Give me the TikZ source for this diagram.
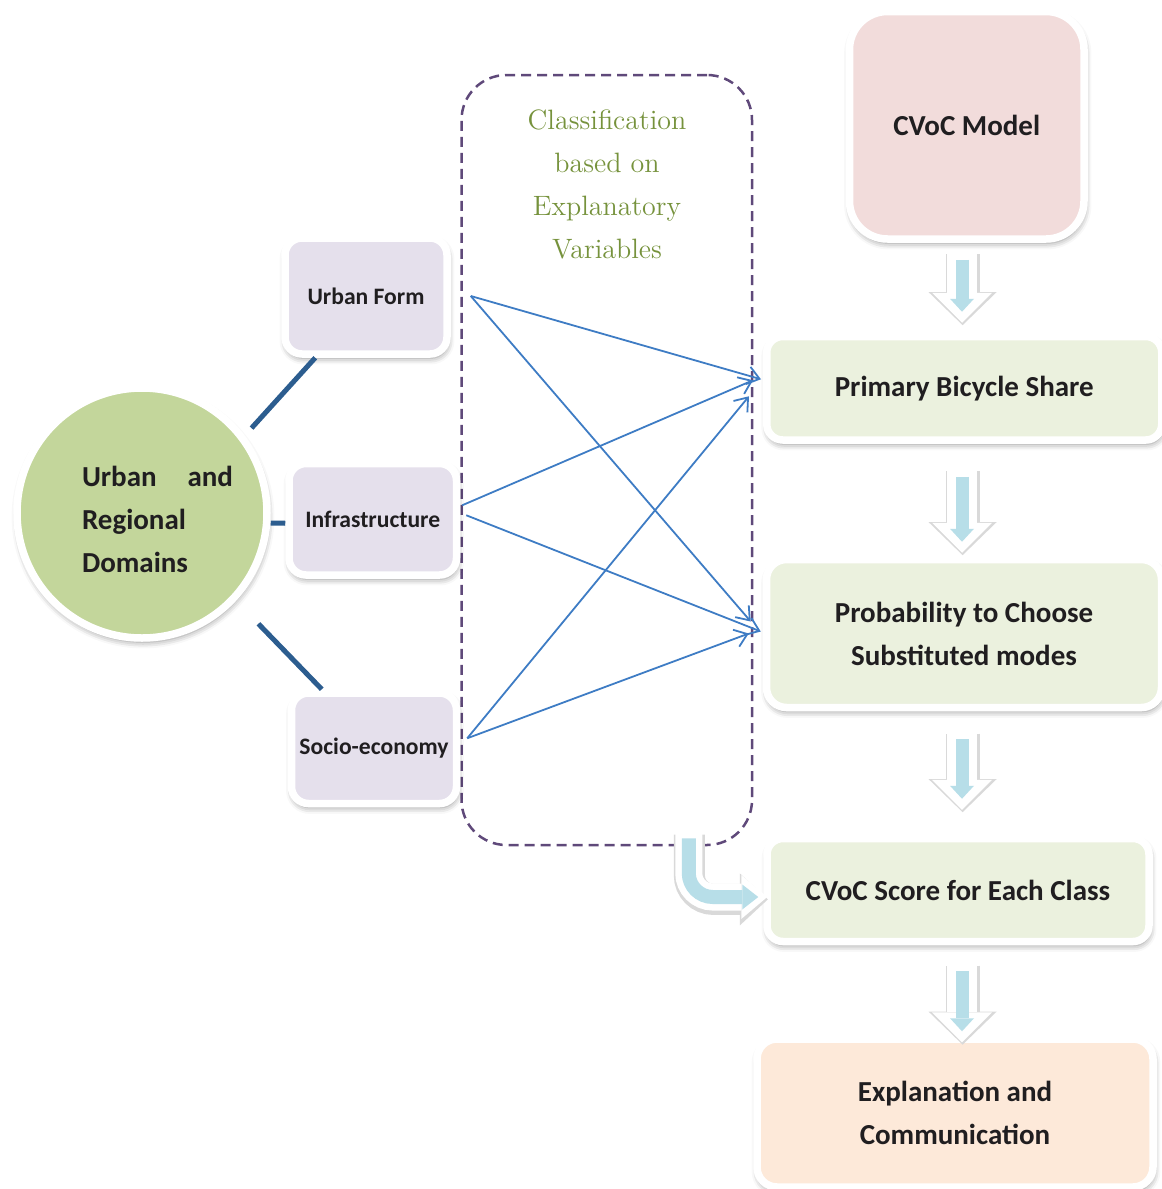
\documentclass[tikz,border=0pt]{standalone}
\usepackage{fontspec}
\usepackage{tikz}
\usetikzlibrary{arrows.meta,calc,shadows.blur}
\newfontfamily\carlito{Carlito}
\definecolor{domaingreen}{RGB}{195,214,155}
\definecolor{varlilac}{RGB}{229,224,236}
\definecolor{modelpink}{RGB}{242,220,219}
\definecolor{stepgreen}{RGB}{235,241,222}
\definecolor{explpeach}{RGB}{253,233,217}
\definecolor{flowblue}{RGB}{183,222,232}
\definecolor{dashpurple}{RGB}{95,73,122}
\definecolor{classgreen}{RGB}{118,146,60}
\definecolor{connblue}{RGB}{44,93,143}
\definecolor{varblue}{RGB}{62,124,196}
\definecolor{textdark}{RGB}{32,30,32}

\begin{document}
\begin{tikzpicture}[x=0.5pt,y=-0.5pt,
  softshadow/.style={blur shadow={shadow xshift=0.5pt,shadow yshift=-2pt,shadow blur radius=3.2pt,shadow opacity=45}},
  domaincircle/.style={circle,fill=domaingreen,draw=white,line width=3.75pt,minimum size=125pt,inner sep=0pt,softshadow},
  domaintext/.style={font=\carlito\bfseries\fontsize{14.5}{21.5}\selectfont,text=textdark,text width=75.5pt,align=justify,inner sep=0pt},
  varbox/.style={rectangle,rounded corners=8.5pt,fill=varlilac,draw=white,line width=3.75pt,inner sep=0pt,softshadow,
    font=\carlito\bfseries\fontsize{11.8}{14}\selectfont,text=textdark,align=center},
  stepbox/.style={rectangle,rounded corners=8pt,draw=white,line width=3.75pt,inner sep=0pt,softshadow,
    font=\carlito\bfseries\fontsize{14.5}{21.5}\selectfont,text=textdark,align=center},
  classbox/.style={rectangle,rounded corners=22.5pt,draw=dashpurple,line width=1.25pt,dash pattern=on 5pt off 3pt,
    minimum width=145.25pt,minimum height=385pt,inner sep=0pt},
  classtext/.style={font=\fontsize{14}{21.5}\selectfont,text=classgreen,align=center,inner sep=0pt},
  domainline/.style={draw=connblue,line width=2.5pt},
  varline/.style={draw=varblue,line width=0.9pt,-{Straight Barb[length=6pt,width=9pt]}},
  flowarrow/.style={draw=white,line width=15pt,-{Triangle[length=15pt,width=30pt,line width=0pt]},
    preaction={draw=black!15,line width=17pt,-{Triangle[length=16.5pt,width=34pt,line width=0pt]},
      transform canvas={xshift=0.3pt,yshift=-1.2pt}},
    postaction={draw=flowblue,line width=6.5pt,shorten <=4pt,shorten >=5.5pt,-{Triangle[length=6.5pt,width=12pt,line width=0pt]}}},
  bendarrow/.style={draw=white,line width=13.5pt,rounded corners=12pt,-{Triangle[length=13pt,width=22pt,line width=0pt]},
    preaction={draw=black!15,line width=15.5pt,-{Triangle[length=14pt,width=26pt,line width=0pt]},
      transform canvas={xshift=0.3pt,yshift=-1.2pt}},
    postaction={draw=flowblue,line width=7pt,shorten <=3pt,shorten >=4.5pt,-{Triangle[length=8pt,width=12.5pt,line width=0pt]}}}]
\useasboundingbox (0,0) rectangle (1162,1189);

\node[classbox] (classbox) at (606.75,460) {};
\node[classtext] (classtext) at (607,184) {Classification\\based on\\Explanatory\\Variables};

\node[domaincircle] (domains) at (142,513) {};
\node[domaintext] (domainstext) at (157.5,519) {Urban\hfill and\\Regional\\Domains};

\node[varbox,minimum width=81pt,minimum height=58pt] (urbanform) at (366,296) {Urban Form};
\node[varbox,minimum width=83.75pt,minimum height=55.75pt] (infra) at (372.75,519.25) {Infrastructure};
\node[varbox,minimum width=82.5pt,minimum height=55.25pt] (socio) at (374,748.25) {Socio-economy};

\node[stepbox,fill=modelpink,rounded corners=19pt,minimum width=117.25pt,minimum height=113.75pt] (cvoc) at (966.75,125.25) {CVoC Model};
\node[stepbox,fill=stepgreen,minimum width=197.5pt,minimum height=51.75pt] (share) at (964.25,388.25) {Primary Bicycle Share};
\node[stepbox,fill=stepgreen,rounded corners=10pt,minimum width=197.5pt,minimum height=74pt] (prob) at (964,633.5) {Probability to Choose\\Substituted modes};
\node[stepbox,fill=stepgreen,minimum width=191pt,minimum height=51.5pt] (score) at (958,890) {CVoC Score for Each Class};
\node[stepbox,fill=explpeach,rounded corners=10pt,minimum width=198pt,minimum height=74pt] (expl) at (955,1113) {Explanation and\\Communication};

\draw[domainline,shorten <=5pt] (domains.37) -- ([xshift=17pt]urbanform.south west);
\draw[domainline] ([yshift=-5pt]domains.east) -- ([yshift=-2pt]infra.west);
\draw[domainline,shorten <=16pt] (domains.-43) -- ([xshift=17pt]socio.north west);

\draw[varline] ([xshift=10pt]urbanform.east) -- ([xshift=-1pt,yshift=4.5pt]share.west);
\draw[varline] ([xshift=10pt]urbanform.east) -- ([xshift=-6pt,yshift=6pt]prob.west);
\draw[varline] ([xshift=1pt,yshift=7pt]infra.east) -- ([xshift=-5pt,yshift=4pt]share.west);
\draw[varline] ([xshift=3pt,yshift=2pt]infra.east) -- ([xshift=-1pt,yshift=1pt]prob.west);
\draw[varline] ([xshift=3.5pt,yshift=5pt]socio.east) -- ([xshift=-7pt,yshift=-4pt]share.west);
\draw[varline] ([xshift=3.5pt,yshift=5pt]socio.east) -- ([xshift=-7pt]prob.west);

\coordinate (flowaxis) at (962,0);
\draw[flowarrow] ($(cvoc.south -| flowaxis)+(0,-4.5pt)$) -- ($(share.north -| flowaxis)+(0,5pt)$);
\draw[flowarrow] ($(share.south -| flowaxis)+(0,-12.5pt)$) -- ($(prob.north -| flowaxis)+(0,1.5pt)$);
\draw[flowarrow] ($(prob.south -| flowaxis)+(0,-10pt)$) -- ($(score.north -| flowaxis)+(0,12.5pt)$);
\draw[flowarrow] ($(score.south -| flowaxis)+(0,-9pt)$) -- ($(expl.north -| flowaxis)+(0,-3.5pt)$);

\coordinate (bendtop) at ($(classbox.south)+(41pt,7pt)$);
\draw[bendarrow] (bendtop) |- ($(score.west)+(2pt,-3.5pt)$);
\end{tikzpicture}
\end{document}
